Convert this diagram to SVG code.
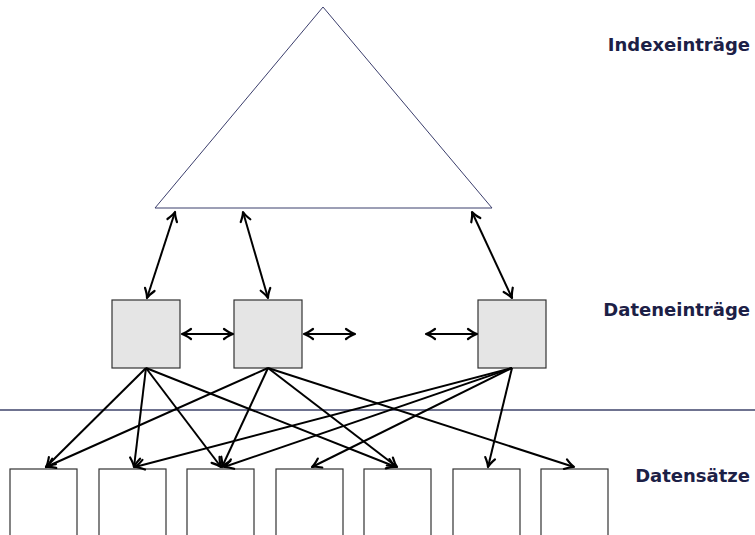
<svg xmlns="http://www.w3.org/2000/svg" width="755" height="535" viewBox="0 0 755 535">
<style>
.lbl{font-family:"DejaVu Sans","Liberation Sans",sans-serif;font-weight:bold;font-size:18px;fill:#1c2046;text-anchor:end}
.sq{fill:#e5e5e5;stroke:#333;stroke-width:1.2}
.rec{fill:#fff;stroke:#333;stroke-width:1.2}
.ar{stroke:#000;stroke-width:2;fill:none;marker-end:url(#ah)}
.da{stroke:#000;stroke-width:2;fill:none;marker-end:url(#ah);marker-start:url(#ah)}
</style>
<defs>
<marker id="ah" markerUnits="userSpaceOnUse" viewBox="-11 -7 13 14" refX="0" refY="0" markerWidth="13" markerHeight="14" orient="auto-start-reverse">
<path d="M-9,-5 Q-3.5,-1 0,0 Q-3.5,1 -9,5" fill="none" stroke="#000" stroke-width="2.2" stroke-linecap="round" stroke-linejoin="round"/>
</marker>
</defs>
<line x1="0" y1="410" x2="755" y2="410" stroke="#6f7390" stroke-width="1.8"/>
<g id="index">
<polygon points="323,7 155,208 492,208" fill="#fff" stroke="#3b3e6c" stroke-width="1"/>
</g>
<g id="sq1"><rect class="sq" x="112" y="300" width="68" height="68"/></g>
<g id="sq2"><rect class="sq" x="234" y="300" width="68" height="68"/></g>
<g id="sq3"><rect class="sq" x="478" y="300" width="68" height="68"/></g>
<g id="r1"><rect class="rec" x="10" y="469" width="67" height="80"/></g>
<g id="r2"><rect class="rec" x="99" y="469" width="67" height="80"/></g>
<g id="r3"><rect class="rec" x="187" y="469" width="67" height="80"/></g>
<g id="r4"><rect class="rec" x="276" y="469" width="67" height="80"/></g>
<g id="r5"><rect class="rec" x="364" y="469" width="67" height="80"/></g>
<g id="r6"><rect class="rec" x="453" y="469" width="67" height="80"/></g>
<g id="r7"><rect class="rec" x="541" y="469" width="67" height="80"/></g>
<g id="connectors">
<line class="da" x1="175" y1="212" x2="147" y2="298"/>
<line class="da" x1="243" y1="212" x2="268" y2="298"/>
<line class="da" x1="472" y1="212" x2="512" y2="298"/>
<line class="da" x1="182" y1="334" x2="233" y2="334"/>
<line class="da" x1="304" y1="334" x2="355" y2="334"/>
<line class="da" x1="426" y1="334" x2="477" y2="334"/>
<line class="ar" x1="146" y1="368" x2="46" y2="467"/>
<line class="ar" x1="146" y1="368" x2="134" y2="467"/>
<line class="ar" x1="146" y1="368" x2="221" y2="467"/>
<line class="ar" x1="146" y1="368" x2="396" y2="467"/>
<line class="ar" x1="268" y1="368" x2="46" y2="467"/>
<line class="ar" x1="268" y1="368" x2="222" y2="467"/>
<line class="ar" x1="268" y1="368" x2="397" y2="467"/>
<line class="ar" x1="268" y1="368" x2="574" y2="467"/>
<line class="ar" x1="512" y1="368" x2="135" y2="467"/>
<line class="ar" x1="512" y1="368" x2="224" y2="467"/>
<line class="ar" x1="512" y1="368" x2="312" y2="467"/>
<line class="ar" x1="512" y1="368" x2="488" y2="467"/>
</g>
<text class="lbl" x="750" y="51">Indexeinträge</text>
<text class="lbl" x="750" y="316">Dateneinträge</text>
<text class="lbl" x="750" y="482">Datensätze</text>
</svg>
